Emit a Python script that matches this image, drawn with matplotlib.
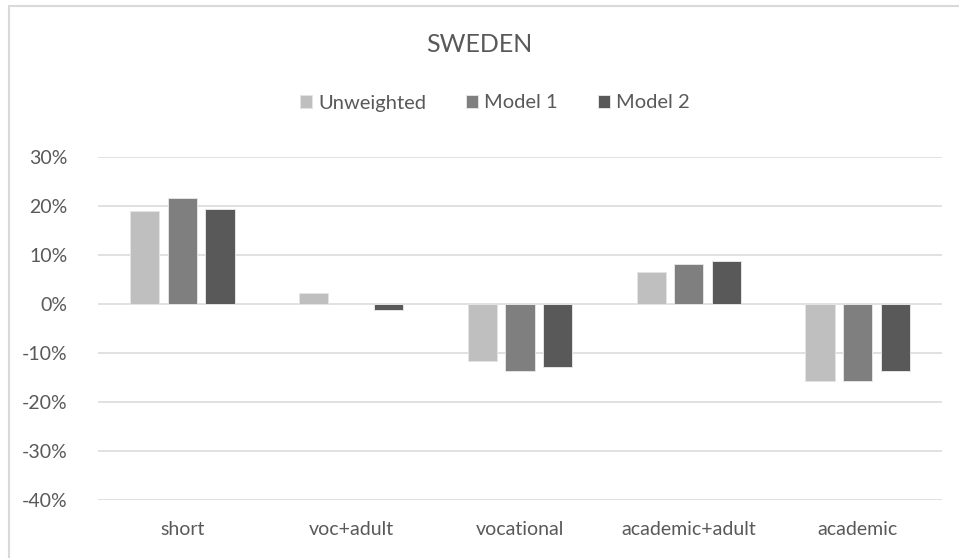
import numpy as np
import matplotlib
matplotlib.use("Agg")
import matplotlib.pyplot as plt
from matplotlib.patches import Rectangle
from matplotlib.ticker import FuncFormatter

plt.rcParams['font.family'] = ['Lato', 'DejaVu Sans']

categories = ["short", "voc+adult", "vocational", "academic+adult", "academic"]
series_names = ["Unweighted", "Model 1", "Model 2"]
unweighted = [0.189, 0.022, -0.117, 0.066, -0.158]
model1 = [0.216, 0.000, -0.137, 0.082, -0.158]
model2 = [0.194, -0.012, -0.129, 0.087, -0.137]
colors = ["#BFBFBF", "#7F7F7F", "#595959"]
yticks = [-0.4, -0.3, -0.2, -0.1, 0.0, 0.1, 0.2, 0.3]

fig = plt.figure(figsize=(9.59, 5.58), dpi=100)
ax = fig.add_axes([98 / 959, 1 - 500 / 558, 844 / 959, 343 / 558])

x = np.arange(len(categories))
offset = 0.223
width = 0.173
for i, (vals, name, c) in enumerate(zip([unweighted, model1, model2], series_names, colors)):
    ax.bar(x + (i - 1) * offset, vals, width, color=c, label=name,
           edgecolor="#E4E4E4", linewidth=0.7, zorder=3)

ax.set_xlim(-0.5, len(categories) - 0.5)
ax.set_ylim(-0.4, 0.3)
ax.set_yticks(yticks)
ax.yaxis.set_major_formatter(FuncFormatter(lambda v, p: f"{v * 100:.0f}%"))
ax.set_xticks(x)
ax.set_xticklabels(categories)
ax.grid(axis="y", color="#D9D9D9", linewidth=1.1, zorder=0)
for s in ax.spines.values():
    s.set_visible(False)
ax.tick_params(axis="both", length=0, labelsize=14, colors="#595959", labelcolor="#595959")
ax.tick_params(axis="x", pad=15)
ax.tick_params(axis="y", pad=22)

fig.text(0.5, 1 - 45 / 558, "SWEDEN", ha="center", va="center", fontsize=18, color="#595959")
fig.legend(loc="center", bbox_to_anchor=(495 / 959, 1 - 103 / 558), ncol=3, frameon=False,
           fontsize=14.5, handlelength=0.6, handleheight=0.6, handletextpad=0.3,
           columnspacing=2.0, labelcolor="#595959")

fig.add_artist(Rectangle((9 / 959, -0.1), 1.2, 1.1 - 6 / 558, transform=fig.transFigure,
                         fill=False, edgecolor="#D9D9D9", linewidth=1.5))

fig.savefig("out.png", dpi=100)
